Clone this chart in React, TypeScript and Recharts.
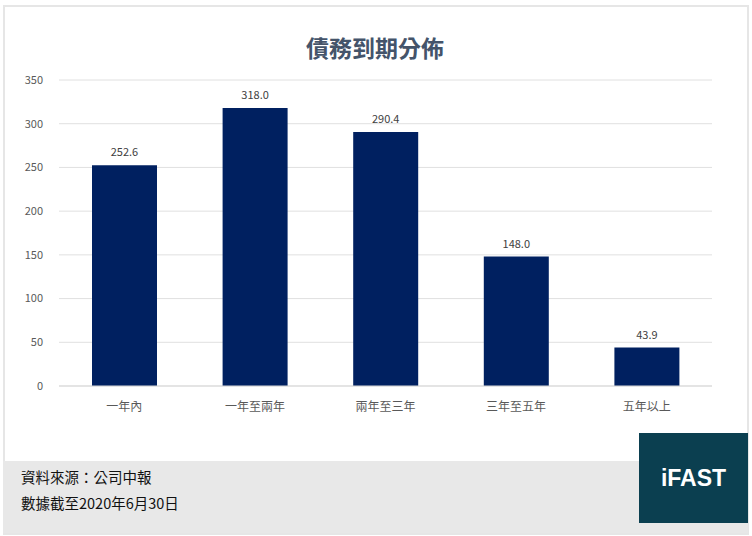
import React from "react";
import { BarChart, Bar, XAxis, YAxis, CartesianGrid, LabelList } from "recharts";

const categories = ["一年內", "一年至兩年", "兩年至三年", "三年至五年", "五年以上"];
const amounts = [252.6, 318.0, 290.4, 148.0, 43.9];
const yTicks = [0, 50, 100, 150, 200, 250, 300, 350];

const data = categories.map((name, i) => ({ name, value: amounts[i] }));

const font = "'Noto Sans CJK TC', 'Noto Sans', sans-serif";

export default function App() {
  return (
    <div
      style={{
        position: "absolute",
        left: 0,
        top: 0,
        width: 752,
        height: 536,
        background: "#fff",
        fontFamily: font,
        overflow: "hidden",
      }}
    >
      {/* frame */}
      <div
        style={{
          position: "absolute",
          left: 3,
          top: 5,
          width: 742,
          height: 526,
          border: "2px solid #e6e6e6",
          boxSizing: "content-box",
        }}
      />
      {/* footer band */}
      <div
        style={{
          position: "absolute",
          left: 3,
          top: 461,
          width: 745,
          height: 72,
          background: "#e8e8e8",
        }}
      />
      <div style={{ position: "absolute", left: 21, top: 466, fontSize: 14.5, color: "#111" }}>
        資料來源：公司中報
      </div>
      <div style={{ position: "absolute", left: 21, top: 492, fontSize: 14.5, color: "#111" }}>
        數據截至2020年6月30日
      </div>
      {/* logo */}
      <div
        style={{
          position: "absolute",
          left: 639,
          top: 433,
          width: 109,
          height: 90,
          background: "#0b3f50",
          color: "#fff",
          display: "flex",
          alignItems: "center",
          justifyContent: "center",
          fontFamily: "'Liberation Sans', Arial, sans-serif",
          fontWeight: 700,
          fontSize: 23,
        }}
      >
        iFAST
      </div>
      {/* title */}
      <div
        style={{
          position: "absolute",
          left: 0,
          top: 31,
          width: 750,
          textAlign: "center",
          fontSize: 23,
          lineHeight: "32px",
          fontWeight: 700,
          color: "#44546a",
          fontFamily: font,
        }}
      >
        債務到期分佈
      </div>
      <div style={{ position: "absolute", left: 0, top: 0 }}>
        <BarChart
          width={752}
          height={420}
          data={data}
          margin={{ top: 80, right: 40, bottom: 4, left: 19 }}
        >
          <CartesianGrid vertical={false} stroke="#e0e0e0" />
          <XAxis
            dataKey="name"
            axisLine={{ stroke: "#d9d9d9" }}
            tickLine={false}
            tick={{ fill: "#595959", fontSize: 12, fontFamily: font }}
            tickMargin={10}
            height={30}
          />
          <YAxis
            domain={[0, 350]}
            ticks={yTicks}
            width={40}
            axisLine={false}
            tickLine={false}
            tick={{ fill: "#595959", fontSize: 11, fontFamily: font }}
            tickMargin={10}
          />
          <Bar dataKey="value" fill="#002060" barSize={65} isAnimationActive={false}>
            <LabelList
              dataKey="value"
              position="top"
              offset={9}
              formatter={(v: number) => v.toFixed(1)}
              style={{ fill: "#404040", fontSize: 11, fontFamily: font }}
            />
          </Bar>
        </BarChart>
      </div>
    </div>
  );
}
